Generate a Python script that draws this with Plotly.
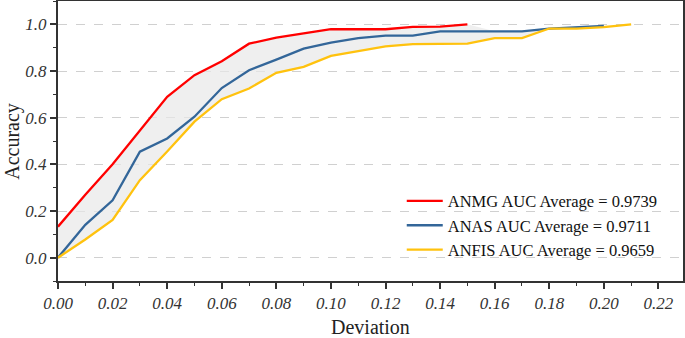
import plotly.graph_objects as go
import numpy as np

dev_anmg = [0.00, 0.01, 0.02, 0.03, 0.04, 0.05, 0.06, 0.07, 0.08, 0.09, 0.10, 0.11, 0.12, 0.13, 0.14, 0.15]
acc_anmg = [0.133, 0.27, 0.40, 0.545, 0.689, 0.782, 0.842, 0.917, 0.943, 0.961, 0.979, 0.979, 0.979, 0.989, 0.990, 1.0]

dev_anas = [0.00, 0.01, 0.02, 0.03, 0.04, 0.05, 0.06, 0.07, 0.08, 0.09, 0.10, 0.11, 0.12, 0.13, 0.14, 0.15, 0.16, 0.17, 0.18, 0.19, 0.20]
acc_anas = [0.0, 0.141, 0.246, 0.454, 0.511, 0.604, 0.727, 0.803, 0.849, 0.896, 0.922, 0.941, 0.952, 0.952, 0.970, 0.970, 0.970, 0.970, 0.982, 0.988, 0.993]

dev_anfis = [0.00, 0.01, 0.02, 0.03, 0.04, 0.05, 0.06, 0.07, 0.08, 0.09, 0.10, 0.11, 0.12, 0.13, 0.14, 0.15, 0.16, 0.17, 0.18, 0.19, 0.20, 0.21]
acc_anfis = [0.0, 0.078, 0.162, 0.332, 0.455, 0.583, 0.679, 0.725, 0.792, 0.818, 0.865, 0.885, 0.906, 0.915, 0.917, 0.917, 0.941, 0.941, 0.982, 0.982, 0.988, 1.0]

names = ["ANMG AUC Average = 0.9739", "ANAS AUC Average = 0.9711", "ANFIS AUC Average = 0.9659"]
colors = ["#ff0000", "#336699", "#ffc20e"]

x_ticks = [0.00, 0.02, 0.04, 0.06, 0.08, 0.10, 0.12, 0.14, 0.16, 0.18, 0.20, 0.22]
y_ticks = [0.0, 0.2, 0.4, 0.6, 0.8, 1.0]

# shaded envelope between the lowest and highest curve
xs = np.array(dev_anfis)
hi_red = np.interp(xs, dev_anmg, acc_anmg, right=np.nan)
hi_blue = np.interp(xs, dev_anas, acc_anas, right=np.nan)
upper = np.nanmax(np.vstack([hi_red, hi_blue, acc_anfis]), axis=0)

fig = go.Figure()
fig.add_trace(go.Scatter(x=dev_anfis, y=acc_anfis, mode="lines", line=dict(width=0),
                         showlegend=False, hoverinfo="skip"))
fig.add_trace(go.Scatter(x=dev_anfis, y=upper, mode="lines", line=dict(width=0),
                         fill="tonexty", fillcolor="rgba(232,232,232,0.7)",
                         showlegend=False, hoverinfo="skip"))

for xv, yv, n, c in [(dev_anmg, acc_anmg, names[0], colors[0]),
                     (dev_anas, acc_anas, names[1], colors[1]),
                     (dev_anfis, acc_anfis, names[2], colors[2])]:
    fig.add_trace(go.Scatter(x=xv, y=yv, mode="lines", name=n,
                             line=dict(color=c, width=2.3)))

serif = "Liberation Serif, Times New Roman, serif"
fig.update_layout(
    width=685, height=338,
    margin=dict(l=58, r=2, t=1, b=57),
    plot_bgcolor="white", paper_bgcolor="white",
    font=dict(family=serif, color="#222"),
    legend=dict(x=0.55, y=0.048, xanchor="left", yanchor="bottom", traceorder="normal",
                font=dict(family=serif, size=16.5, color="#111"), itemwidth=36,
                bgcolor="rgba(0,0,0,0)", tracegroupgap=0),
    xaxis=dict(range=[0, 0.229], tickvals=x_ticks, ticktext=[f"{v:.2f}" for v in x_ticks],
               ticks="outside", ticklen=6, tickwidth=1.5, tickcolor="#333",
               minor=dict(dtick=0.01, tick0=0, ticks="outside", ticklen=3, tickwidth=1.2, tickcolor="#333"),
               showline=True, linecolor="#333", linewidth=2, mirror=True,
               showgrid=False, zeroline=False, automargin=False,
               tickfont=dict(family=serif, size=17, style="italic", color="#333")),
    yaxis=dict(range=[-0.1, 1.1], tickvals=y_ticks, ticktext=[f"{v:.1f}" for v in y_ticks],
               ticks="outside", ticklen=6, tickwidth=1.5, tickcolor="#333",
               minor=dict(dtick=0.1, tick0=0, ticks="outside", ticklen=3, tickwidth=1.2, tickcolor="#333"),
               showline=True, linecolor="#333", linewidth=2, mirror=True,
               showgrid=True, gridcolor="#d0d0d0", griddash="dash", gridwidth=1,
               zeroline=False, automargin=False,
               tickfont=dict(family=serif, size=17, style="italic", color="#333")),
    annotations=[
        dict(text="Deviation", xref="paper", yref="paper", x=0.5, y=-0.164,
             xanchor="center", yanchor="middle", showarrow=False,
             font=dict(family=serif, size=20, color="#222")),
        dict(text="Accuracy", xref="paper", yref="paper", x=-0.074, y=0.5,
             xanchor="center", yanchor="middle", showarrow=False, textangle=-90,
             font=dict(family=serif, size=20, color="#222")),
    ],
)

fig.write_html("out.html", config={"displayModeBar": False},
               post_script="document.body.style.margin='0';document.body.style.overflow='hidden';")
